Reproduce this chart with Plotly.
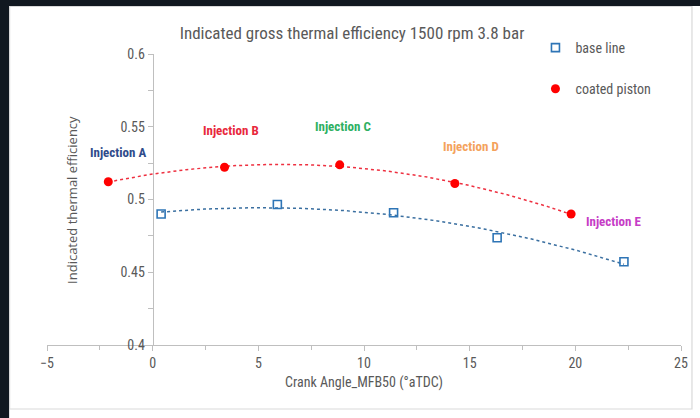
import numpy as np
import plotly.graph_objects as go

# Crank angle of 50% mass fraction burned (deg aTDC) and indicated gross thermal efficiency
base_mfb50 = [0.4, 5.9, 11.4, 16.3, 22.3]
base_eff = [0.490, 0.4966, 0.4909, 0.4737, 0.4572]
coated_mfb50 = [-2.1, 3.4, 8.85, 14.3, 19.8]
coated_eff = [0.5122, 0.5222, 0.5238, 0.511, 0.490]

# Injection timing labels
inj_labels = ["Injection A", "Injection B", "Injection C", "Injection D", "Injection E"]
inj_x = [-1.65, 3.73, 9.0, 15.05, 21.8]
inj_y = [0.532, 0.5474, 0.550, 0.5365, 0.4849]
inj_colors = ["#2f4b8a", "#e8283c", "#2eb062", "#f4a25c", "#c63cc6"]

x_ticks = [-5, 0, 5, 10, 15, 20, 25]
y_ticks = [0.4, 0.45, 0.5, 0.55, 0.6]

NARROW = "Liberation Sans Narrow, Arial Narrow, Roboto Condensed, sans-serif"
GREY = "#595959"

W, H = 700, 418
L, R, T, B = 47, 17, 54, 73
pw, ph = W - L - R, H - T - B


def px_to_paper_x(px):
    return (px - L) / pw


def px_to_paper_y(py):
    return (H - B - py) / ph


def trend(x, y, n=120):
    # second order polynomial trendline over the span of the data
    c = np.polyfit(x, y, 2)
    xs = np.linspace(min(x), max(x), n)
    return xs, np.polyval(c, xs)


fig = go.Figure()

bx, by = trend(base_mfb50, base_eff)
cx, cy = trend(coated_mfb50, coated_eff)

fig.add_trace(go.Scatter(x=bx, y=by, mode="lines", showlegend=False, hoverinfo="skip",
                         line=dict(color="#3a6fa0", width=1.5, dash="dot")))
fig.add_trace(go.Scatter(x=cx, y=cy, mode="lines", showlegend=False, hoverinfo="skip",
                         line=dict(color="#ee3040", width=1.5, dash="dot")))

fig.add_trace(go.Scatter(x=base_mfb50, y=base_eff, mode="markers", name="base line",
                         legendgroup="a",
                         marker=dict(symbol="square-open", size=8, color="#2e75b6",
                                     line=dict(width=1.6, color="#2e75b6"))))
fig.add_trace(go.Scatter(x=coated_mfb50, y=coated_eff, mode="markers", name="coated piston",
                         legendgroup="b",
                         marker=dict(symbol="circle", size=9, color="#ff0000")))

for t, x, y, c in zip(inj_labels, inj_x, inj_y, inj_colors):
    fig.add_annotation(x=x, y=y, text=f"<b>{t}</b>", showarrow=False,
                       font=dict(family=NARROW, size=13, color=c))

# y-axis title
fig.add_annotation(xref="paper", yref="paper", x=px_to_paper_x(72), y=px_to_paper_y(200),
                   xanchor="center", yanchor="middle",
                   text="Indicated thermal efficiency", textangle=-90, showarrow=False,
                   font=dict(family="Open Sans, sans-serif", size=13, color=GREY))

# white chart card with a light border on a dark page background
fig.add_shape(type="rect", xref="paper", yref="paper", layer="below",
              x0=px_to_paper_x(9), x1=px_to_paper_x(720),
              y0=px_to_paper_y(430), y1=px_to_paper_y(6),
              fillcolor="white", line=dict(width=0))
fig.add_shape(type="rect", xref="paper", yref="paper", layer="above",
              x0=px_to_paper_x(9.5), x1=px_to_paper_x(694),
              y0=px_to_paper_y(409), y1=px_to_paper_y(6.5),
              fillcolor="rgba(0,0,0,0)", line=dict(width=1.2, color="#d9d9d9"))

fig.update_layout(
    width=W, height=H,
    margin=dict(l=L, r=R, t=T, b=B),
    paper_bgcolor="#111820", plot_bgcolor="white",
    title=dict(text="Indicated gross thermal efficiency 1500 rpm 3.8 bar",
               x=352 / W, xanchor="center", y=1 - 33 / H, yanchor="middle",
               font=dict(family=NARROW, size=17, color=GREY)),
    showlegend=True,
    legend=dict(x=px_to_paper_x(537), y=px_to_paper_y(32), xanchor="left", yanchor="top",
                bgcolor="rgba(0,0,0,0)", tracegroupgap=20, traceorder="grouped",
                font=dict(family=NARROW, size=14, color=GREY)),
    xaxis=dict(range=[-5, 25], tickvals=x_ticks, showgrid=False, zeroline=False,
               showline=True, linecolor="#bfbfbf", linewidth=1,
               ticks="outside", ticklen=5, tickcolor="#bfbfbf",
               minor=dict(dtick=2.5, ticks="outside", ticklen=4, tickcolor="#bfbfbf"),
               tickfont=dict(family=NARROW, size=14, color=GREY),
               title=dict(text="Crank Angle_MFB50 (°aTDC)", standoff=7,
                          font=dict(family=NARROW, size=14, color=GREY))),
    yaxis=dict(range=[0.4, 0.6], tickvals=y_ticks, ticktext=[str(v) for v in y_ticks],
               showgrid=False, zeroline=False, anchor="free", position=5 / 30,
               showline=True, linecolor="#bfbfbf", linewidth=1,
               ticks="outside", ticklen=5, tickcolor="#bfbfbf",
               minor=dict(dtick=0.025, ticks="outside", ticklen=5, tickcolor="#bfbfbf"),
               tickfont=dict(family=NARROW, size=14, color=GREY)),
)

fig.write_html("out.html",
               post_script="document.documentElement.style.overflow='hidden';"
                           "document.body.style.margin='0';document.body.style.overflow='hidden';")
